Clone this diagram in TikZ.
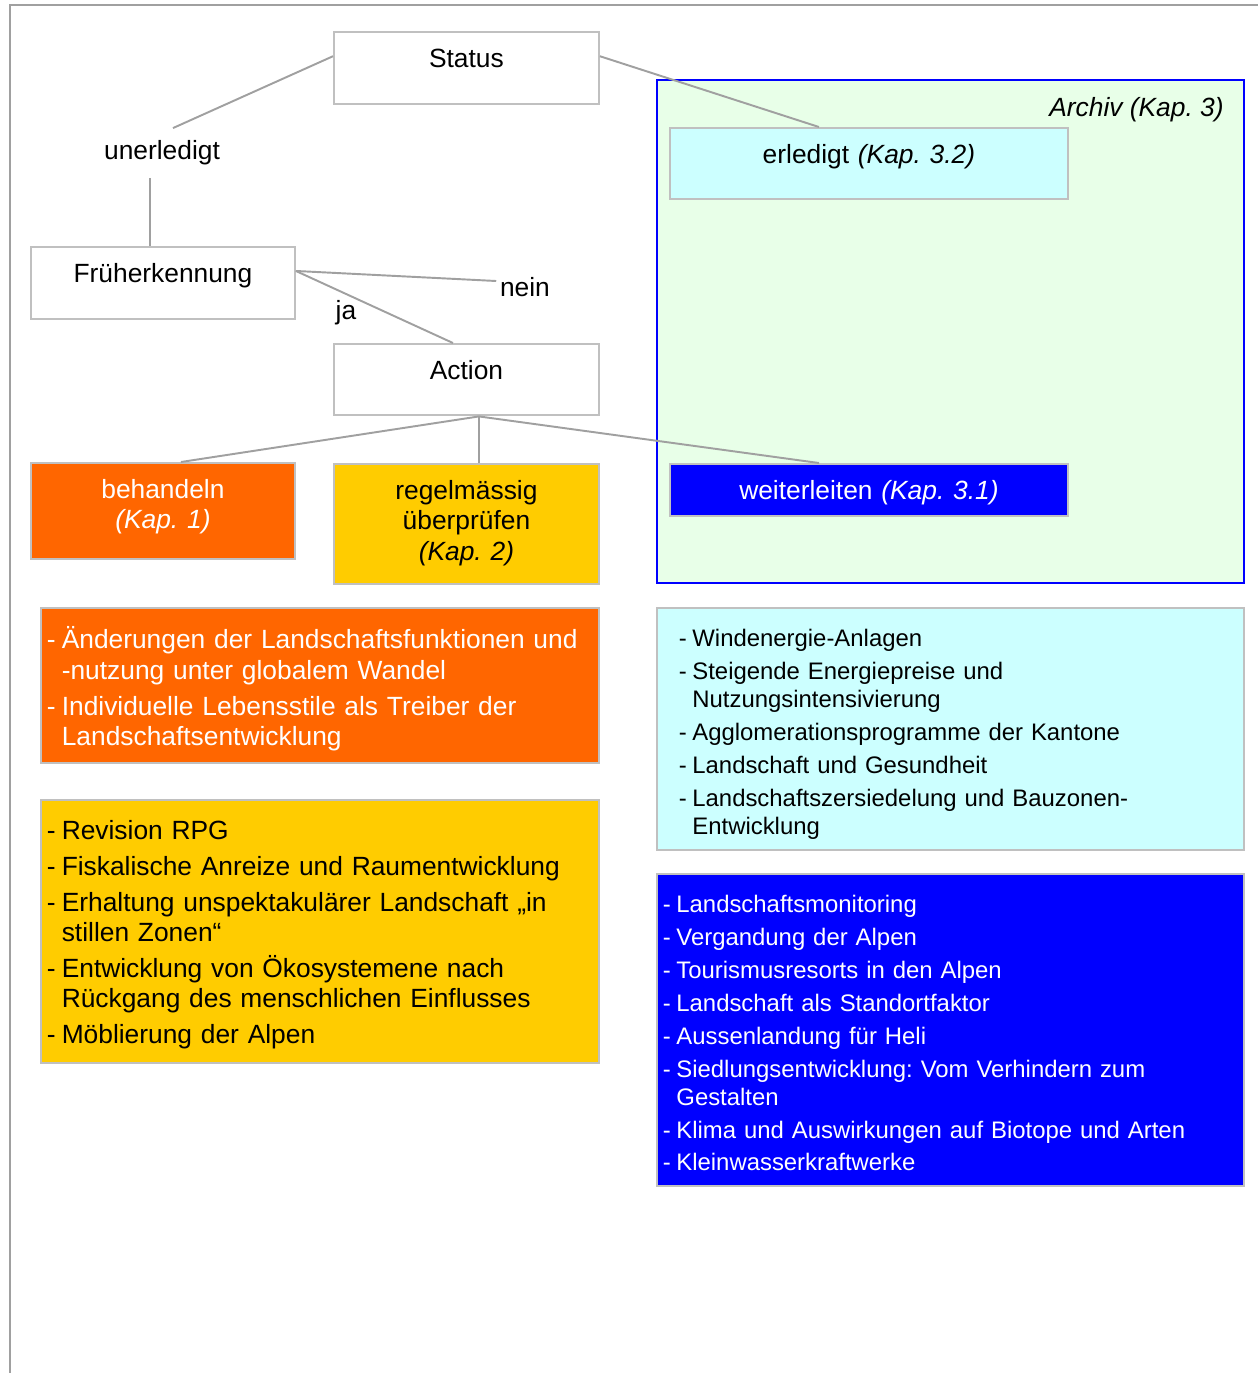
\documentclass[tikz,border=0pt]{standalone}
\usepackage{fontspec}
\setmainfont{Liberation Sans}
\usepackage{tikz}
\definecolor{linegray}{RGB}{160,160,160}
\definecolor{boxgray}{RGB}{192,192,192}
\definecolor{kaporange}{RGB}{255,102,0}
\definecolor{kapyellow}{RGB}{255,204,0}
\definecolor{kapcyan}{RGB}{204,255,255}
\definecolor{kapblue}{RGB}{0,0,255}
\definecolor{archivgreen}{RGB}{232,255,232}

\frenchspacing
\newcommand{\fs}{\fontsize{15}{17.3}\selectfont}
\newcommand{\fsm}{\fontsize{13.6}{15.9}\selectfont}
\newcommand{\itm}[1]{\mbox{-\hspace{0.23em}#1}}
\newcommand{\more}[1]{\mbox{\phantom{-}\hspace{0.23em}#1}}

\begin{document}
\begin{tikzpicture}[x=0.02cm, y=-0.02cm,
  lbox/.style={draw=boxgray, line width=1.1pt, inner sep=0pt, align=center, anchor=north west, text height=0.71cm, font=\fs},
  lst/.style={draw=boxgray, line width=1.1pt, inner ysep=0pt, align=left, anchor=north west, text height=0.8cm},
  lbl/.style={inner sep=2pt, font=\fs},
  conn/.style={draw=linegray, line width=1.1pt}]

\useasboundingbox (0,0) rectangle (1258,1373);

% page frame
\draw[linegray, line width=1.1pt] (1258,5) -- (10,5) -- (10,1373);

% archive area
\node[draw=kapblue, fill=archivgreen, line width=1.1pt, anchor=north west, inner sep=0pt,
      minimum width=11.74cm, minimum height=10.06cm] (archiv) at (656,79) {};
\node[lbl, inner sep=0pt, anchor=base east, font=\fs\itshape] (archivlbl) at (1224,116) {Archiv (Kap. 3)};

% decision tree
\node[lbox, text width=5.3cm, text depth=0.74cm] (status) at (333,31) {Status};
\node[lbl, inner ysep=7pt] (unerl) at (162,153) {unerledigt};
\node[lbox, text width=5.28cm, text depth=0.73cm] (frueh) at (30,246) {Früherkennung};
\node[lbl] (nein) at (525,287) {nein};
\node[lbl] (ja) at (346,313) {ja};
\node[lbox, text width=5.3cm, text depth=0.72cm] (action) at (333,343) {Action};
\node[lbox, fill=kaporange, text=white, text width=5.28cm, text depth=1.22cm] (behandeln) at (30,462) {behandeln\\\textit{(Kap. 1)}};
\node[lbox, fill=kapyellow, text width=5.3cm, text depth=1.7cm] (regel) at (333,463) {regelmässig\\überprüfen\\\textit{(Kap. 2)}};
\node[lbox, fill=kapcyan, text width=7.96cm, text depth=0.72cm] (erledigt) at (669,127) {erledigt \textit{(Kap. 3.2)}};
\node[lbox, fill=kapblue, text=white, text width=7.96cm, text depth=0.34cm] (weiter) at (669,463) {weiterleiten \textit{(Kap. 3.1)}};

% connectors
\draw[conn] ([yshift=0.24cm]status.west) -- ([xshift=0.22cm]unerl.north);
\coordinate (unerlfoot) at ([xshift=-0.24cm]unerl.south);
\draw[conn] (unerlfoot) -- (unerlfoot |- frueh.north);
\draw[conn] ([yshift=0.24cm]frueh.east) -- ([yshift=0.12cm]nein.west);
\draw[conn] ([yshift=0.24cm]frueh.east) -- ([xshift=-0.27cm]action.north);
\coordinate (fork) at ([xshift=0.25cm]action.south);
\draw[conn] (fork) -- ([xshift=0.36cm]behandeln.north);
\draw[conn] (fork) -- (fork |- regel.north);
\draw[conn] (fork) -- ([xshift=-1cm]weiter.north);
\draw[conn] ([yshift=0.24cm]status.east) -- ([xshift=-1cm]erledigt.north);

% topic lists
\node[lst, fill=kaporange, text=white, font=\fs, inner xsep=0.12cm, text width=10.92cm,
      text height=0.82cm, text depth=2.28cm] (listorange) at (40,607)
  {\itm{Änderungen der Landschaftsfunktionen und}\\\more{-nutzung unter globalem Wandel}\\[3pt]%
   \itm{Individuelle Lebensstile als Treiber der}\\\more{Landschaftsentwicklung}};
\node[lst, fill=kapyellow, font=\fs, inner xsep=0.12cm, text width=10.92cm,
      text height=0.8cm, text depth=4.46cm] (listyellow) at (40,799)
  {\itm{Revision RPG}\\[3pt]\itm{Fiskalische Anreize und Raumentwicklung}\\[3pt]%
   \itm{Erhaltung unspektakulärer Landschaft „in}\\\more{stillen Zonen“}\\[3pt]%
   \itm{Entwicklung von Ökosystemene nach}\\\more{Rückgang des menschlichen Einflusses}\\[3pt]%
   \itm{Möblierung der Alpen}};
\node[lst, fill=kapcyan, font=\fsm, inner xsep=0.44cm, text width=10.86cm,
      text height=0.78cm, text depth=4.06cm] (listcyan) at (656,607)
  {\itm{Windenergie-Anlagen}\\[2.8pt]\itm{Steigende Energiepreise und}\\\more{Nutzungsintensivierung}\\[2.8pt]%
   \itm{Agglomerationsprogramme der Kantone}\\[2.8pt]\itm{Landschaft und Gesundheit}\\[2.8pt]%
   \itm{Landschaftszersiedelung und Bauzonen-}\\\more{Entwicklung}};
\node[lst, fill=kapblue, text=white, font=\fsm, inner xsep=0.12cm, text width=11.5cm,
      text height=0.78cm, text depth=5.46cm] (listblue) at (656,873)
  {\itm{Landschaftsmonitoring}\\[2.8pt]\itm{Vergandung der Alpen}\\[2.8pt]%
   \itm{Tourismusresorts in den Alpen}\\[2.8pt]\itm{Landschaft als Standortfaktor}\\[2.8pt]%
   \itm{Aussenlandung für Heli}\\[2.8pt]\itm{Siedlungsentwicklung: Vom Verhindern zum}\\\more{Gestalten}\\[2.8pt]%
   \itm{Klima und Auswirkungen auf Biotope und Arten}\\[2.8pt]\itm{Kleinwasserkraftwerke}};
\end{tikzpicture}
\end{document}
